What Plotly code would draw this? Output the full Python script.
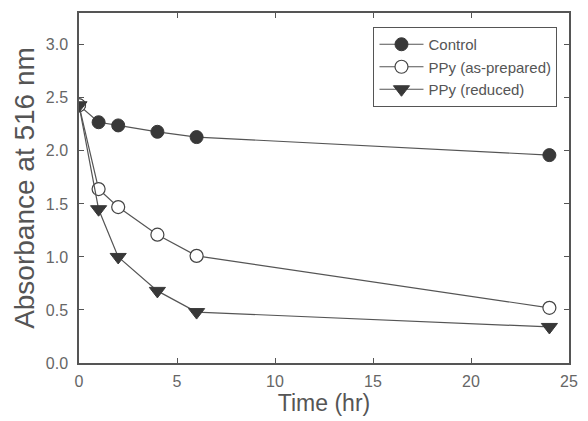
import plotly.graph_objects as go

time_hr = [0, 1, 2, 4, 6, 24]
control = [2.43, 2.27, 2.24, 2.18, 2.13, 1.96]
ppy_asprep = [2.43, 1.64, 1.47, 1.21, 1.01, 0.52]
ppy_reduced = [2.43, 1.45, 1.00, 0.68, 0.48, 0.34]

FONT = "Liberation Sans, Arial, sans-serif"
line_col = "#555555"
fig = go.Figure()
fig.add_trace(go.Scatter(x=time_hr, y=control, name="Control", mode="lines+markers",
                         line=dict(color=line_col, width=1.2),
                         marker=dict(symbol="circle", size=13, color="#383838",
                                     line=dict(color="#383838", width=1))))
fig.add_trace(go.Scatter(x=time_hr, y=ppy_asprep, name="PPy (as-prepared)", mode="lines+markers",
                         line=dict(color=line_col, width=1.2),
                         marker=dict(symbol="circle", size=13, color="white",
                                     line=dict(color="#444444", width=1.2))))
fig.add_trace(go.Scatter(x=time_hr, y=ppy_reduced, name="PPy (reduced)", mode="lines+markers",
                         line=dict(color=line_col, width=1.2),
                         marker=dict(symbol="triangle-down", size=14, color="#383838",
                                     line=dict(color="#383838", width=1))))

axis_common = dict(showline=True, linecolor="#555555", linewidth=1.5, mirror="ticks",
                   ticks="inside", ticklen=5, tickcolor="#555555", tickwidth=1,
                   showgrid=False, zeroline=False,
                   tickfont=dict(family=FONT, size=16, color="#666666"))

fig.update_layout(
    width=588, height=421,
    margin=dict(l=79, r=10, t=13, b=58),
    paper_bgcolor="white", plot_bgcolor="white",
    xaxis=dict(range=[0, 25], dtick=5, tick0=0, ticklabelstandoff=3,
               title=dict(text="Time (hr)", standoff=3,
                          font=dict(family=FONT, size=23, color="#555555")),
               **axis_common),
    yaxis=dict(range=[0, 3.3], dtick=0.5, tick0=0, tickformat=".1f", ticklabelstandoff=6,
               title=dict(text="Absorbance at 516 nm", standoff=3,
                          font=dict(family=FONT, size=28, color="#555555")),
               **axis_common),
    legend=dict(x=0.601, y=0.96, xanchor="left", yanchor="top",
                bgcolor="white", bordercolor="#555555", borderwidth=1,
                font=dict(family=FONT, size=15, color="#555555"),
                tracegroupgap=0, itemwidth=44),
    showlegend=True,
)

fig.write_html("out.html")
